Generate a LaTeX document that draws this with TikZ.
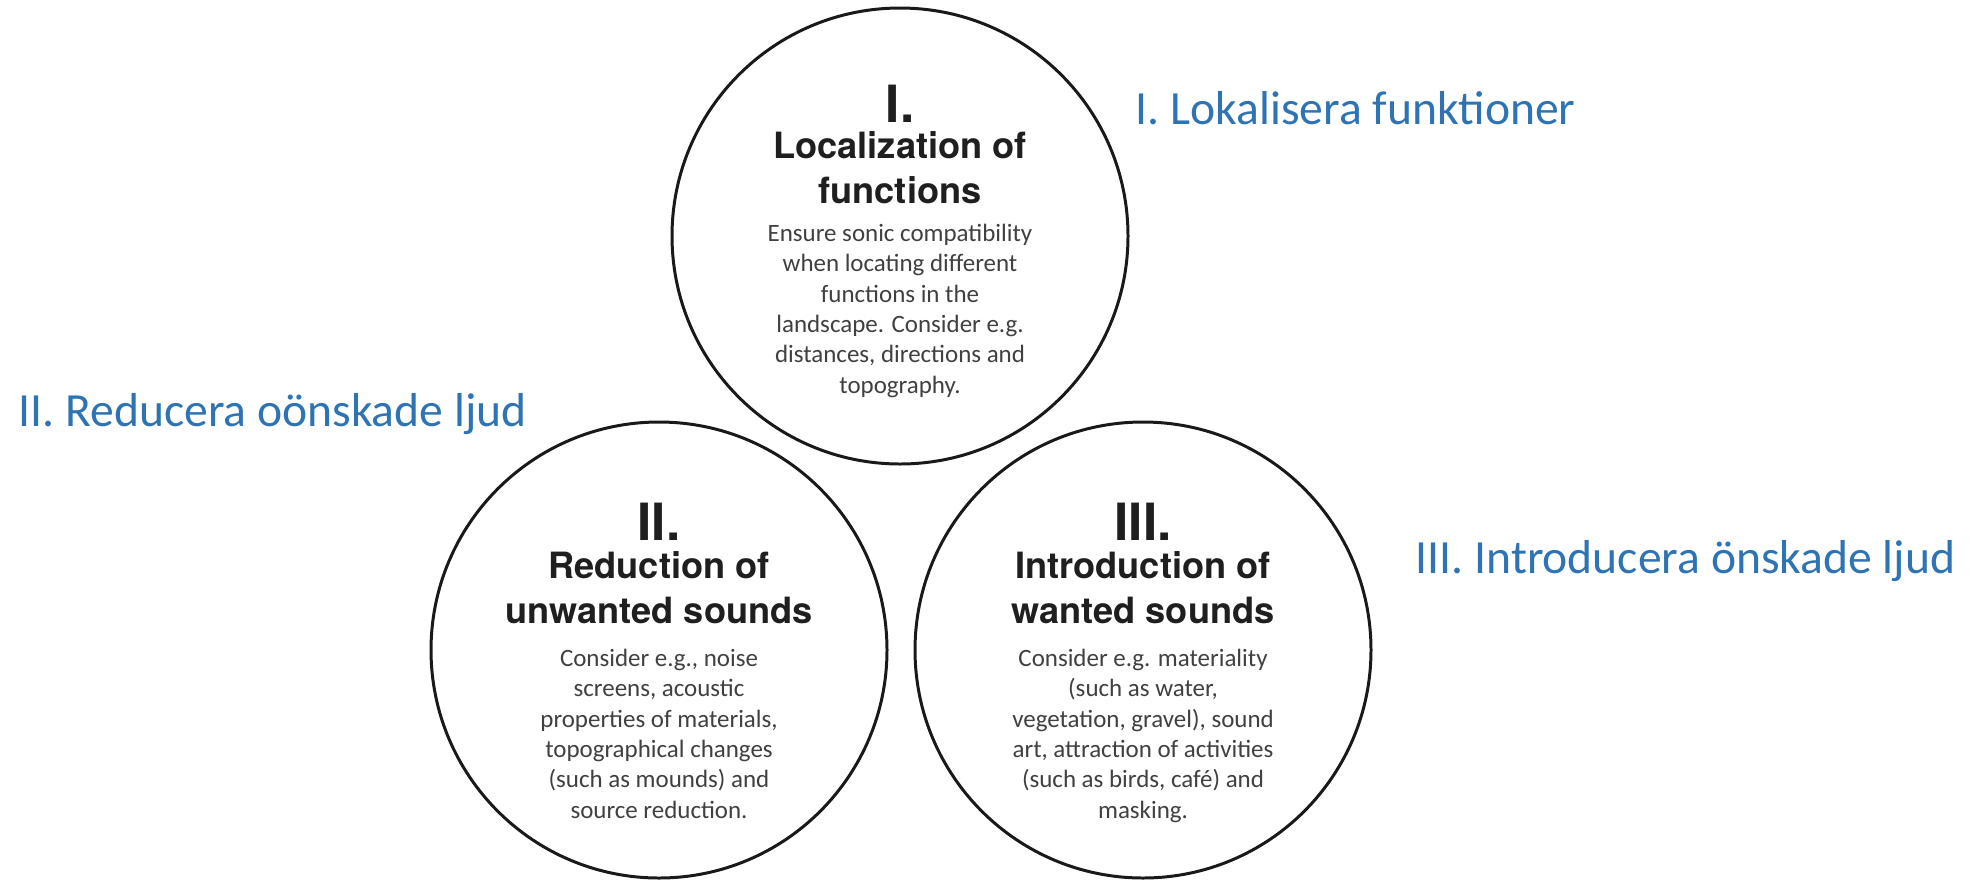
\documentclass[tikz,border=0pt]{standalone}
\usepackage{fontspec}
\setmainfont{Carlito}
\newfontfamily\headfont{TeX Gyre Heros}

\begin{document}
\begin{tikzpicture}[
  ring/.style={circle, draw=col_ring, line width=0.85pt, minimum size=4.56cm, inner sep=0pt},
  roman/.style={font=\headfont\bfseries\fontsize{14.6}{14.6}\selectfont, text=col_head, anchor=base, inner sep=0pt},
  headline/.style={font=\headfont\bfseries\fontsize{10.3}{12.66}\selectfont, text=col_head, align=center, anchor=base, inner sep=0pt},
  bodytext/.style={font=\fontsize{7.1}{8.62}\selectfont, text=col_body, align=center, anchor=base, inner sep=0pt},
  swelabel/.style={font=\fontsize{13.55}{13.55}\selectfont, text=col_swe, anchor=base west, inner sep=0pt}
]
%
\definecolor{col_ring}{rgb}{0.1,0.1,0.1}
\definecolor{col_head}{rgb}{0.12,0.12,0.12}
\definecolor{col_body}{rgb}{0.25,0.25,0.25}
\definecolor{col_swe}{rgb}{0.18,0.455,0.71}
%
\useasboundingbox (0,0) rectangle (19.72,8.79);
%
% the three circles
\node[ring] (c1) at (9.00,6.43) {};
\node[ring] (c2) at (6.59,2.29) {};
\node[ring] (c3) at (11.43,2.29) {};
%
% I.
\node[roman] (n1) at ([yshift=1.14cm]c1.center) {I.};
\node[headline] (h1) at ([yshift=0.33cm]c1.center) {Localization of\\functions};
\node[bodytext] (b1) at ([yshift=-1.57cm]c1.center) {Ensure sonic compatibility\\when locating different\\functions in the\\landscape. Consider e.g.\\distances, directions and\\topography.};
%
% II.
\node[roman] (n2) at ([yshift=1.10cm]c2.center) {II.};
\node[headline] (h2) at ([yshift=0.27cm]c2.center) {Reduction of\\unwanted sounds};
\node[bodytext] (b2) at ([yshift=-1.68cm]c2.center) {Consider e.g., noise\\screens, acoustic\\properties of materials,\\topographical changes\\(such as mounds) and\\source reduction.};
%
% III.
\node[roman] (n3) at ([yshift=1.10cm]c3.center) {III.};
\node[headline] (h3) at ([yshift=0.27cm]c3.center) {Introduction of\\wanted sounds};
\node[bodytext] (b3) at ([yshift=-1.68cm]c3.center) {Consider e.g. materiality\\(such as water,\\vegetation, gravel), sound\\art, attraction of activities\\(such as birds, café) and\\masking.};
%
% swedish labels
\node[swelabel] (l1) at (11.35,7.55) {I. Lokalisera funktioner};
\node[swelabel] (l2) at (0.18,4.53) {II. Reducera oönskade ljud};
\node[swelabel] (l3) at (14.15,3.06) {III. Introducera önskade ljud};
%
\end{tikzpicture}
\end{document}
